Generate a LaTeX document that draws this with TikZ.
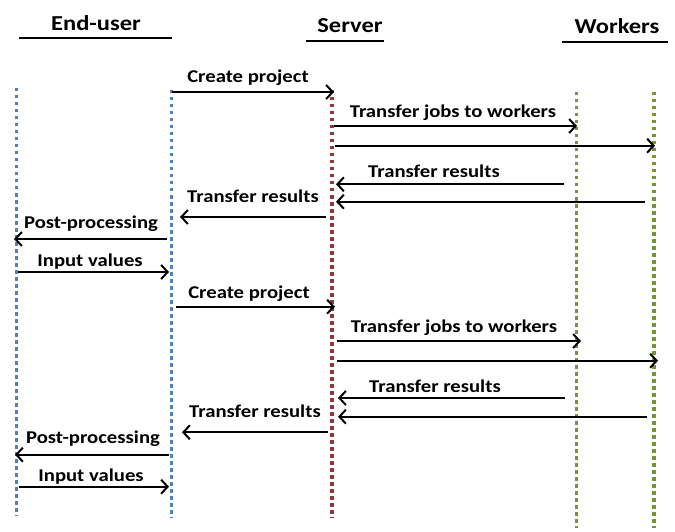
\documentclass[tikz,border=0pt]{standalone}
\usepackage{fontspec}
\setmainfont{Carlito}[FakeStretch=1.15]
\usetikzlibrary{arrows.meta}
\definecolor{lblue}{HTML}{4F81BD}
\definecolor{lred}{HTML}{953735}
\definecolor{lgreen}{HTML}{77933C}
\begin{document}
\begin{tikzpicture}[x=1pt,y=-1pt,
  lifeline/.style={line width=3.6pt, dash pattern=on 3.5pt off 3.5pt},
  msg/.style={line width=2.1pt, -{Straight Barb[length=6.5pt,width=14pt,line width=2pt]}},
  lbl/.style={font=\fontsize{18}{20}\selectfont\bfseries, anchor=base, inner sep=0pt},
  hdr/.style={font=\fontsize{21.3}{24}\selectfont\bfseries, anchor=base, inner sep=0pt},
  uline/.style={line width=2.2pt}]
\useasboundingbox (0,0) rectangle (675,532);
% headers
\node[hdr] (hEU) at (96,30.7) {End-user};
\node[hdr] (hS) at (350,32.3) {Server};
\node[hdr] (hW) at (617,33.3) {Workers};
\coordinate (uEUa) at (19,38.3); \coordinate (uEUb) at (172,38.3);
\coordinate (uSa) at (306,41); \coordinate (uSb) at (384,41);
\coordinate (uWa) at (562,42.3); \coordinate (uWb) at (668,42.3);
\draw[uline] (uEUa) -- (uEUb);
\draw[uline] (uSa) -- (uSb);
\draw[uline] (uWa) -- (uWb);
% lifelines
\coordinate (L1t) at (16.5,88); \coordinate (L1b) at (16.5,516);
\coordinate (L2t) at (171.5,90); \coordinate (L2b) at (171.5,518);
\coordinate (L3t) at (332,90); \coordinate (L3b) at (332,518);
\coordinate (L4t) at (576.5,92); \coordinate (L4b) at (576.5,528);
\coordinate (L5t) at (654,92); \coordinate (L5b) at (654,528);
\draw[lifeline, lblue] (L1t) -- (L1b);
\draw[lifeline, lblue] (L2t) -- (L2b);
\draw[lifeline, lred] (L3t) -- (L3b);
\draw[lifeline, lgreen] (L4t) -- (L4b);
\draw[lifeline, lgreen] (L5t) -- (L5b);
% round 1
\coordinate (a1s) at (172,92); \coordinate (a1e) at (334,92);
\coordinate (a2s) at (334,126); \coordinate (a2e) at (577,126);
\coordinate (a3s) at (335,145.7); \coordinate (a3e) at (655,145.7);
\coordinate (a4s) at (564,184.3); \coordinate (a4e) at (336,184.3);
\coordinate (a5s) at (645,201.7); \coordinate (a5e) at (336,201.7);
\coordinate (a6s) at (326,217); \coordinate (a6e) at (180,217);
\coordinate (a7s) at (167,239); \coordinate (a7e) at (14,239);
\coordinate (a8s) at (18,272); \coordinate (a8e) at (169,272);
\draw[msg] (a1s) -- (a1e);
\draw[msg] (a2s) -- (a2e);
\draw[msg] (a3s) -- (a3e);
\draw[msg] (a4s) -- (a4e);
\draw[msg] (a5s) -- (a5e);
\draw[msg] (a6s) -- (a6e);
\draw[msg] (a7s) -- (a7e);
\draw[msg] (a8s) -- (a8e);
\node[lbl] (t1) at (248,83) {Create project};
\node[lbl] (t2) at (453,118) {Transfer jobs to workers};
\node[lbl] (t3) at (434,177.7) {Transfer results};
\node[lbl] (t4) at (253,202.7) {Transfer results};
\node[lbl] (t5) at (91,229) {Post-processing};
\node[lbl] (t6) at (90,266.7) {Input values};
% round 2
\coordinate (b1s) at (176,306.7); \coordinate (b1e) at (335,306.7);
\coordinate (b2s) at (337,341); \coordinate (b2e) at (581,341);
\coordinate (b3s) at (337,360.7); \coordinate (b3e) at (658,360.7);
\coordinate (b4s) at (565,398); \coordinate (b4e) at (338,398);
\coordinate (b5s) at (647,416.7); \coordinate (b5e) at (338,416.7);
\coordinate (b6s) at (328,432.3); \coordinate (b6e) at (182,432.3);
\coordinate (b7s) at (169,454.7); \coordinate (b7e) at (15,454.7);
\coordinate (b8s) at (19,486.7); \coordinate (b8e) at (169,486.7);
\draw[msg] (b1s) -- (b1e);
\draw[msg] (b2s) -- (b2e);
\draw[msg] (b3s) -- (b3e);
\draw[msg] (b4s) -- (b4e);
\draw[msg] (b5s) -- (b5e);
\draw[msg] (b6s) -- (b6e);
\draw[msg] (b7s) -- (b7e);
\draw[msg] (b8s) -- (b8e);
\node[lbl] (u1) at (249,298) {Create project};
\node[lbl] (u2) at (454,332.7) {Transfer jobs to workers};
\node[lbl] (u3) at (435,392) {Transfer results};
\node[lbl] (u4) at (255,417) {Transfer results};
\node[lbl] (u5) at (93,443) {Post-processing};
\node[lbl] (u6) at (91,481.7) {Input values};
\end{tikzpicture}
\end{document}
